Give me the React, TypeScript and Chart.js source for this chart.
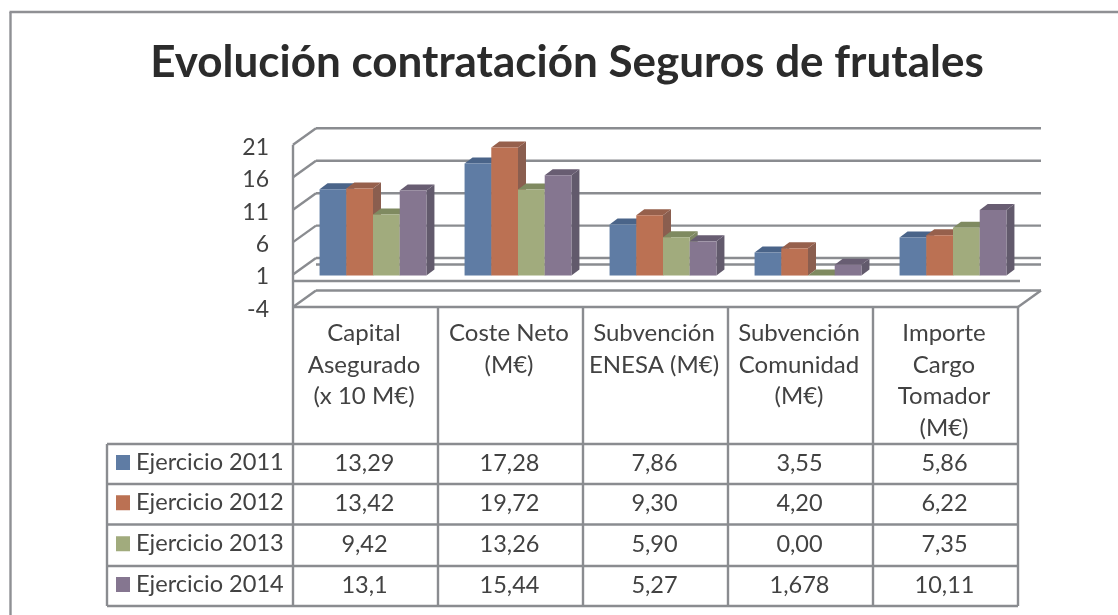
import React, { useEffect, useRef } from "react";
import { Chart, registerables } from "chart.js";

Chart.register(...registerables);

const titleText = "Evolución contratación Seguros de frutales";
const categories = [
  ["Capital", "Asegurado", "(x 10 M€)"],
  ["Coste Neto", "(M€)"],
  ["Subvención", "ENESA (M€)"],
  ["Subvención", "Comunidad", "(M€)"],
  ["Importe", "Cargo", "Tomador", "(M€)"],
];
const seriesNames = ["Ejercicio 2011", "Ejercicio 2012", "Ejercicio 2013", "Ejercicio 2014"];
const values2011 = [13.29, 17.28, 7.86, 3.55, 5.86];
const values2012 = [13.42, 19.72, 9.3, 4.2, 6.22];
const values2013 = [9.42, 13.26, 5.9, 0, 7.35];
const values2014 = [13.1, 15.44, 5.27, 1.678, 10.11];
const labels2011 = ["13,29", "17,28", "7,86", "3,55", "5,86"];
const labels2012 = ["13,42", "19,72", "9,30", "4,20", "6,22"];
const labels2013 = ["9,42", "13,26", "5,90", "0,00", "7,35"];
const labels2014 = ["13,1", "15,44", "5,27", "1,678", "10,11"];

const seriesValues = [values2011, values2012, values2013, values2014];
const tableLabels = [labels2011, labels2012, labels2013, labels2014];
const frontColors = ["#5f7ca4", "#bb7153", "#a1ab7d", "#857690"];
const topColors = ["#4a6489", "#96604c", "#7f8a60", "#685d72"];
const sideColors = ["#4f6585", "#8a5e4f", "#7d8663", "#625a6c"];

const FONT = "Lato, Carlito, sans-serif";
const TEXT = "#424242";
const LINE = "#8a8c90";
const WALL_DX = 23;
const WALL_DY = 16.5;
const BAR_DX = 7.5;
const BAR_DY = 5.5;
const SIDE_DX = 8;
const SIDE_DY = 6;
const ROW_LINES = [444, 484, 524.5, 566, 606];
const LEGEND_LEFT = 107;

function line(ctx: CanvasRenderingContext2D, x1: number, y1: number, x2: number, y2: number) {
  ctx.beginPath();
  ctx.moveTo(x1, y1);
  ctx.lineTo(x2, y2);
  ctx.stroke();
}

const structurePlugin = {
  id: "structure",
  beforeDraw(chart: any) {
    const { ctx, scales, chartArea } = chart;
    const x = scales.x;
    const y = scales.y;
    const left = chartArea.left;
    const right = chartArea.right;
    const bottom = chartArea.bottom;
    ctx.save();
    ctx.fillStyle = "#ffffff";
    ctx.fillRect(0, 0, chart.width, chart.height);

    // outer frame
    ctx.strokeStyle = "#8f9094";
    ctx.lineWidth = 2.4;
    line(ctx, 10.5, 615, 10.5, 12);
    line(ctx, 9.5, 12, 1118, 12);

    // walls
    ctx.strokeStyle = LINE;
    ctx.lineWidth = 2.4;
    y.ticks.forEach((t: any) => {
      const py = y.getPixelForValue(t.value);
      line(ctx, left, py, left + WALL_DX, py - WALL_DY);
      line(ctx, left + WALL_DX, py - WALL_DY, right + WALL_DX, py - WALL_DY);
    });
    line(ctx, left, y.getPixelForValue(21), left, bottom);
    // floor at zero
    const zero = y.getPixelForValue(0);
    line(ctx, left + WALL_DX, zero - WALL_DY, right + WALL_DX, zero - WALL_DY);
    line(ctx, left, zero, right + 2, zero);
    // lower plate right edge
    line(ctx, right, bottom, right + WALL_DX, bottom - WALL_DY);

    // data table
    const band = x.getPixelForTick(1) - x.getPixelForTick(0);
    const tableBottom = ROW_LINES[ROW_LINES.length - 1];
    for (let i = 0; i <= categories.length; i++) {
      const px = x.getPixelForTick(0) - band / 2 + i * band;
      line(ctx, px, bottom, px, tableBottom);
    }
    line(ctx, left, bottom, right, bottom);
    ROW_LINES.forEach((ry) => line(ctx, LEGEND_LEFT, ry, right, ry));
    line(ctx, LEGEND_LEFT, ROW_LINES[0], LEGEND_LEFT, tableBottom);

    ctx.textBaseline = "middle";
    seriesNames.forEach((name, r) => {
      const cy = (ROW_LINES[r] + ROW_LINES[r + 1]) / 2;
      ctx.fillStyle = frontColors[r];
      ctx.fillRect(116, cy - 9, 14, 15);
      ctx.fillStyle = TEXT;
      ctx.textAlign = "left";
      ctx.font = `23.6px ${FONT}`;
      ctx.fillText(name, 136, cy - 2);
      ctx.textAlign = "center";
      ctx.font = `23.5px ${FONT}`;
      tableLabels[r].forEach((txt, c) => {
        ctx.fillText(txt, x.getPixelForTick(c) - 1, cy - 1);
      });
    });
    ctx.restore();
  },
  beforeDatasetsDraw(chart: any) {
    // Bars are painted left to right so that each front face hides its left neighbour's side.
    const { ctx } = chart;
    ctx.save();
    ctx.translate(BAR_DX, -BAR_DY);
    seriesNames.forEach((_, i) => {
      const meta = chart.getDatasetMeta(i);
      meta.data.forEach((el: any) => {
        const { x, y, base, width } = el.getProps(["x", "y", "base", "width"], true);
        const l = x - width / 2;
        const r = x + width / 2;
        ctx.fillStyle = sideColors[i];
        ctx.beginPath();
        ctx.moveTo(r, y);
        ctx.lineTo(r + SIDE_DX, y - SIDE_DY);
        ctx.lineTo(r + SIDE_DX, base - SIDE_DY);
        ctx.lineTo(r, base);
        ctx.closePath();
        ctx.fill();
        ctx.fillStyle = topColors[i];
        ctx.beginPath();
        ctx.moveTo(l, y);
        ctx.lineTo(l + SIDE_DX, y - SIDE_DY);
        ctx.lineTo(r + SIDE_DX, y - SIDE_DY);
        ctx.lineTo(r, y);
        ctx.closePath();
        ctx.fill();
        el.draw(ctx);
      });
    });
    ctx.restore();
  },
  beforeDatasetDraw() {
    return false;
  },
};

export default function App() {
  const ref = useRef<HTMLCanvasElement | null>(null);
  useEffect(() => {
    if (!ref.current) return;
    const chart = new Chart(ref.current, {
      type: "bar",
      data: {
        labels: categories as any,
        datasets: seriesNames.map((name, i) => ({
          label: name,
          data: seriesValues[i],
          backgroundColor: frontColors[i],
          borderWidth: 0,
          categoryPercentage: 0.737,
          barPercentage: 1,
        })),
      },
      options: {
        responsive: false,
        animation: false,
        events: [],
        layout: { padding: { left: 116, right: 100, top: 0, bottom: 0 } },
        plugins: {
          legend: { display: false },
          tooltip: { enabled: false },
          title: {
            display: true,
            text: titleText,
            color: "#2b2b2b",
            font: { family: FONT, size: 44, weight: "bold", lineHeight: 1.2 },
            padding: { top: 36, bottom: 56 },
          },
        },
        scales: {
          x: {
            grid: { display: false, drawTicks: false },
            border: { display: false },
            ticks: {
              autoSkip: false,
              maxRotation: 0,
              minRotation: 0,
              padding: 11,
              labelOffset: -1.5,
              color: TEXT,
              font: { family: FONT, size: 24, lineHeight: 1.31 },
            },
            afterFit(scale: any) {
              scale.height = 308;
            },
          },
          y: {
            min: -4,
            max: 21,
            grid: { display: false, drawTicks: false },
            border: { display: false },
            ticks: {
              stepSize: 5,
              padding: 24,
              labelOffset: 2.5,
              color: TEXT,
              font: { family: FONT, size: 23 },
            },
            afterFit(scale: any) {
              scale.width = 177;
            },
          },
        },
      },
      plugins: [structurePlugin as any],
    });
    return () => chart.destroy();
  }, []);
  return (
    <div style={{ position: "fixed", left: 0, top: 0, width: 1118, height: 615, background: "#fff" }}>
      <canvas ref={ref} width={1118} height={615} style={{ display: "block", filter: "blur(0.5px)" }} />
    </div>
  );
}
